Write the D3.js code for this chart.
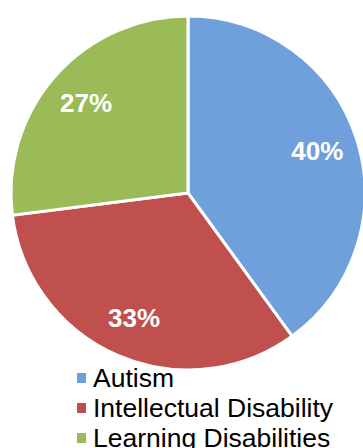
<!DOCTYPE html>
<html>
<head>
<meta charset="utf-8">
<script src="https://cdn.jsdelivr.net/npm/d3@7"></script>
<style>
  body { margin: 0; background: #fff; }
  svg { display: block; font-family: "Liberation Sans", Arial, sans-serif; }
</style>
</head>
<body>
<div id="chart"></div>
<script>
var categories = ["Autism", "Intellectual Disability", "Learning Disabilities"];
var values = [40, 33, 27];
var labels = ["40%", "33%", "27%"];
var colors = ["#6FA0DC", "#C0504D", "#9BBB59"];

var width = 363, height = 448;
var cx = 188, cy = 193, radius = 177;

var svg = d3.select("#chart").append("svg")
    .attr("width", width)
    .attr("height", height);

var pie = d3.pie().sort(null).value(function (d) { return d; });
var arcs = pie(values);

var arc = d3.arc().innerRadius(0).outerRadius(radius);
var labelArc = d3.arc().innerRadius(136).outerRadius(136);

var g = svg.append("g").attr("transform", "translate(" + cx + "," + cy + ")");

g.selectAll("path")
    .data(arcs)
    .enter().append("path")
    .attr("d", arc)
    .attr("fill", function (d, i) { return colors[i]; })
    .attr("stroke", "#fff")
    .attr("stroke-width", 3)
    .attr("stroke-linejoin", "miter");

g.selectAll("text.lbl")
    .data(arcs)
    .enter().append("text")
    .attr("class", "lbl")
    .attr("x", function (d) { return labelArc.centroid(d)[0]; })
    .attr("y", function (d) { return labelArc.centroid(d)[1]; })
    .attr("dy", "0.35em")
    .attr("text-anchor", "middle")
    .attr("fill", "#fff")
    .attr("font-weight", "bold")
    .attr("font-size", "26px")
    .text(function (d, i) { return labels[i]; });

// legend
var legend = svg.append("g").attr("transform", "translate(77,378)");
var row = legend.selectAll("g")
    .data(categories)
    .enter().append("g")
    .attr("transform", function (d, i) { return "translate(0," + (i * 30) + ")"; });

row.append("rect")
    .attr("x", 0)
    .attr("y", -5)
    .attr("width", 9)
    .attr("height", 10)
    .attr("fill", function (d, i) { return colors[i]; });

row.append("text")
    .attr("x", 16)
    .attr("y", 9)
    .attr("font-size", "26.5px")
    .attr("fill", "#000")
    .text(function (d) { return d; });
</script>
</body>
</html>
